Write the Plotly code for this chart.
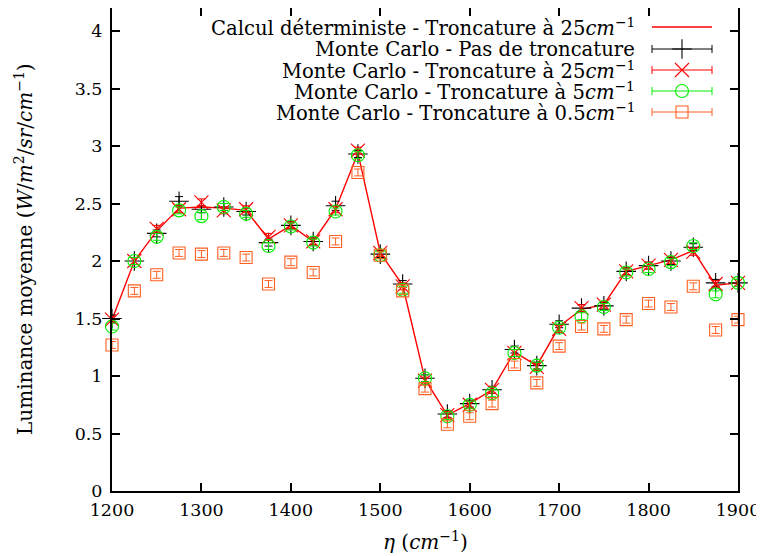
import plotly.graph_objects as go

eta = [1200, 1225, 1250, 1275, 1300, 1325, 1350, 1375, 1400, 1425, 1450, 1475, 1500, 1525,
       1550, 1575, 1600, 1625, 1650, 1675, 1700, 1725, 1750, 1775, 1800, 1825, 1850, 1875, 1900]

det_25 = [1.49, 2.00, 2.26, 2.46, 2.47, 2.46, 2.44, 2.19, 2.31, 2.17, 2.45, 2.94, 2.07, 1.79,
          0.97, 0.66, 0.76, 0.88, 1.21, 1.09, 1.43, 1.58, 1.62, 1.91, 1.96, 2.01, 2.09, 1.79, 1.81]

mc_none = [1.50, 2.00, 2.24, 2.52, 2.45, 2.47, 2.43, 2.16, 2.31, 2.17, 2.48, 2.93, 2.06, 1.80,
           0.98, 0.67, 0.76, 0.88, 1.23, 1.09, 1.45, 1.59, 1.61, 1.91, 1.96, 2.00, 2.12, 1.81, 1.81]
mc_none_err = [0.03, 0.03, 0.03, 0.04, 0.03, 0.03, 0.03, 0.03, 0.03, 0.03, 0.04, 0.03, 0.03, 0.03,
               0.03, 0.03, 0.03, 0.03, 0.03, 0.03, 0.03, 0.03, 0.03, 0.03, 0.03, 0.03, 0.03, 0.03, 0.03]

mc_25 = [1.49, 2.00, 2.28, 2.45, 2.51, 2.44, 2.45, 2.21, 2.31, 2.17, 2.45, 2.96, 2.07, 1.78,
         0.96, 0.66, 0.75, 0.88, 1.20, 1.08, 1.41, 1.59, 1.62, 1.91, 1.96, 2.01, 2.08, 1.80, 1.81]
mc_25_err = [0.03, 0.03, 0.03, 0.03, 0.03, 0.03, 0.03, 0.03, 0.03, 0.03, 0.03, 0.03, 0.03, 0.03,
             0.03, 0.03, 0.03, 0.03, 0.03, 0.03, 0.03, 0.03, 0.03, 0.03, 0.03, 0.03, 0.03, 0.03, 0.03]

mc_5 = [1.43, 2.00, 2.21, 2.44, 2.39, 2.47, 2.41, 2.13, 2.30, 2.16, 2.43, 2.92, 2.05, 1.75,
        0.98, 0.65, 0.75, 0.85, 1.20, 1.09, 1.42, 1.52, 1.60, 1.90, 1.93, 1.99, 2.13, 1.71, 1.81]
mc_5_err = [0.03, 0.03, 0.03, 0.03, 0.03, 0.03, 0.03, 0.03, 0.03, 0.03, 0.03, 0.03, 0.03, 0.03,
            0.03, 0.03, 0.03, 0.03, 0.03, 0.03, 0.03, 0.03, 0.03, 0.03, 0.03, 0.03, 0.03, 0.03, 0.03]

mc_05 = [1.27, 1.74, 1.88, 2.07, 2.06, 2.07, 2.03, 1.80, 1.99, 1.90, 2.17, 2.77, 2.05, 1.74,
         0.89, 0.58, 0.65, 0.76, 1.10, 0.94, 1.26, 1.43, 1.41, 1.49, 1.63, 1.60, 1.78, 1.40, 1.49]
mc_05_err = [0.03, 0.03, 0.03, 0.03, 0.03, 0.03, 0.03, 0.03, 0.03, 0.03, 0.03, 0.03, 0.03, 0.03,
             0.03, 0.03, 0.03, 0.03, 0.03, 0.03, 0.03, 0.03, 0.03, 0.03, 0.03, 0.03, 0.03, 0.03, 0.03]

x_ticks = [1200, 1300, 1400, 1500, 1600, 1700, 1800, 1900]
y_ticks = [0, 0.5, 1, 1.5, 2, 2.5, 3, 3.5, 4]
y_tick_text = ["0", "0.5", "1", "1.5", "2", "2.5", "3", "3.5", "4"]

names = [
    "Calcul déterministe - Troncature à 25<i>cm</i><sup>−1</sup>",
    "Monte Carlo - Pas de troncature",
    "Monte Carlo - Troncature à 25<i>cm</i><sup>−1</sup>",
    "Monte Carlo - Troncature à 5<i>cm</i><sup>−1</sup>",
    "Monte Carlo - Troncature à 0.5<i>cm</i><sup>−1</sup>",
]
colors = ["#FF0000", "#000000", "#FF0000", "#00EE00", "#FF6020"]
symbols = [None, "cross-thin", "x-thin", "circle-open", "square-open"]
sizes = [None, 14, 14, 13, 12]

FONT = "DejaVu Serif"
TICK_SIZE = 17.5
LEG_SIZE = 19.6
TITLE_SIZE = 20

# The page body has an 8px margin: the figure is drawn 8px in from the window corner.
OFF = 8
W, H = 764 - OFF, 556 - OFF
# plot area in window pixels: left 112, right 738, top 8, bottom 491
ML, MT = 112 - OFF, 8 - OFF
MR = W - (738 - OFF)
MB = H - (491 - OFF)
PW, PH = W - ML - MR, H - MT - MB


def px_to_paper_x(px):
    return (px - OFF - ML) / PW


def px_to_paper_y(py):
    return (H - MB - (py - OFF)) / PH


fig = go.Figure()
fig.add_trace(go.Scatter(x=eta, y=det_25, mode="lines", name=names[0], showlegend=False,
                         line=dict(color=colors[0], width=1.4)))

series = [(mc_none, mc_none_err), (mc_25, mc_25_err), (mc_5, mc_5_err), (mc_05, mc_05_err)]
for i, (y, err) in enumerate(series, start=1):
    fig.add_trace(go.Scatter(
        x=eta, y=y, mode="markers", name=names[i], showlegend=False, cliponaxis=False,
        marker=dict(color=colors[i], symbol=symbols[i], size=sizes[i],
                    line=dict(color=colors[i], width=1.1)),
        error_y=dict(type="data", array=err, visible=True, color=colors[i], thickness=1, width=4),
    ))

# custom legend (text right-aligned, key on the right, as in the original)
row_y = [27, 49, 70, 91, 112]
text_right = 637
key_x0, key_x1 = 652, 712
key_xc = (key_x0 + key_x1) / 2
shapes = []
annotations = []
for i in range(5):
    yy = px_to_paper_y(row_y[i])
    annotations.append(dict(text=names[i], x=px_to_paper_x(text_right), y=yy,
                            xref="paper", yref="paper", xanchor="right", yanchor="middle",
                            showarrow=False, font=dict(family=FONT, size=LEG_SIZE, color="black")))
    shapes.append(dict(type="line", xref="paper", yref="paper",
                       x0=px_to_paper_x(key_x0), x1=px_to_paper_x(key_x1), y0=yy, y1=yy,
                       line=dict(color=colors[i], width=1.4 if i == 0 else 1)))
    if i > 0:
        for kx in (key_x0, key_x1):
            shapes.append(dict(type="line", xref="paper", yref="paper",
                               x0=px_to_paper_x(kx), x1=px_to_paper_x(kx),
                               y0=px_to_paper_y(row_y[i] - 4), y1=px_to_paper_y(row_y[i] + 4),
                               line=dict(color=colors[i], width=1)))
        fig.add_trace(go.Scatter(
            x=[px_to_paper_x(key_xc)], y=[yy], xaxis="x2", yaxis="y2", mode="markers",
            showlegend=False, hoverinfo="skip", cliponaxis=False,
            marker=dict(color=colors[i], symbol=symbols[i], size=sizes[i],
                        line=dict(color=colors[i], width=1.1))))

# axis titles
annotations.append(dict(
    text="Luminance moyenne (<i>W</i>/<i>m</i><sup>2</sup>/<i>sr</i>/<i>cm</i><sup>−1</sup>)",
    x=px_to_paper_x(24), y=px_to_paper_y(249), xref="paper", yref="paper",
    xanchor="center", yanchor="middle", textangle=-90, showarrow=False,
    font=dict(family=FONT, size=TITLE_SIZE, color="black")))
annotations.append(dict(
    text="<i>η</i> (<i>cm</i><sup>−1</sup>)",
    x=0.5, y=px_to_paper_y(541), xref="paper", yref="paper",
    xanchor="center", yanchor="middle", showarrow=False,
    font=dict(family=FONT, size=TITLE_SIZE, color="black")))

axis_common = dict(
    showline=True, linecolor="black", linewidth=2, mirror="allticks",
    ticks="inside", ticklen=8, tickwidth=2, tickcolor="black",
    showgrid=False, zeroline=False, automargin=False,
    tickfont=dict(family=FONT, size=TICK_SIZE, color="black"),
)

fig.update_layout(
    width=W, height=H,
    margin=dict(l=ML, r=MR, t=MT, b=MB, autoexpand=False),
    paper_bgcolor="white", plot_bgcolor="white",
    font=dict(family=FONT, size=TICK_SIZE, color="black"),
    xaxis=dict(range=[1200, 1900], tickvals=x_ticks, ticklabelstandoff=2, **axis_common),
    yaxis=dict(range=[0, 4.2], tickvals=y_ticks, ticktext=y_tick_text, ticklabelstandoff=4,
               **axis_common),
    xaxis2=dict(overlaying="x", range=[0, 1], visible=False, fixedrange=True),
    yaxis2=dict(overlaying="y", range=[0, 1], visible=False, fixedrange=True),
    shapes=shapes,
    annotations=annotations,
    showlegend=False,
)

fig.write_html("out.html")
